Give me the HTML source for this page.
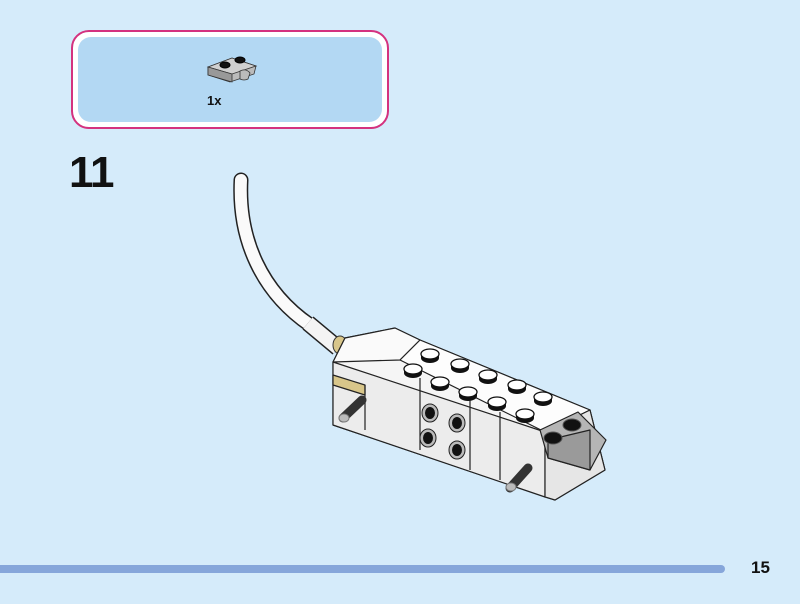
<!DOCTYPE html>
<html><head><meta charset="utf-8"><style>
html,body{margin:0;padding:0;}
body{width:800px;height:604px;background:#d5ebfa;position:relative;overflow:hidden;font-family:"Liberation Sans",sans-serif;}
.box{position:absolute;left:71px;top:30px;width:314px;height:95px;border:2px solid #d4327f;border-radius:18px;background:#fff;}
.inner{position:absolute;left:5px;top:5px;right:5px;bottom:5px;background:#b3d8f3;border-radius:13px;}
.qty{position:absolute;left:207px;top:93px;font-size:13px;font-weight:bold;color:#111;}
.step{position:absolute;left:69px;top:148px;font-size:44px;font-weight:bold;color:#111;letter-spacing:-1px;}
.bar{position:absolute;left:0;top:565px;width:725px;height:8px;background:#86a6da;border-radius:0 4px 4px 0;}
.pg{position:absolute;left:751px;top:558px;font-size:17px;font-weight:bold;color:#111;}
</style></head><body>
<div class="box"><div class="inner"></div></div>
<svg style="position:absolute;left:0;top:0" width="800" height="604">
 <defs>
  <g id="stud"><path d="M-9,0 L-9,4 A9,5 0 0 0 9,4 L9,0Z" fill="#111"/><ellipse cx="0" cy="0" rx="9" ry="5" fill="#fff" stroke="#111" stroke-width="1.3"/></g>
  <g id="hole"><ellipse rx="8" ry="9" fill="#bbb" stroke="#222"/><ellipse rx="5" ry="6" fill="#111"/></g>
 </defs>
 <g stroke="#333" stroke-width="0.8">
  <polygon points="208,67 232,58 256,66 254,74 230,82 208,75" fill="#bbb"/>
  <polygon points="208,67 232,58 256,66 232,74" fill="#d0d0d0"/>
  <polygon points="208,67 232,74 232,82 208,75" fill="#999"/>
  <path d="M240,71 q6,-3 10,2 l-2,6 q-4,2 -8,0z" fill="#bbb"/>
 </g>
 <g fill="#111" stroke="#000"><ellipse cx="225" cy="65" rx="5" ry="3"/><ellipse cx="240" cy="60" rx="5" ry="3"/></g>
 <path d="M241,180 C238,240 262,292 310,325" stroke="#222" stroke-width="15" fill="none" stroke-linecap="round"/>
 <path d="M241,180 C238,240 262,292 310,325" stroke="#fafafa" stroke-width="12" fill="none" stroke-linecap="round"/>
 <path d="M308,323 L338,348" stroke="#222" stroke-width="17" fill="none"/>
 <path d="M308,323 L338,348" stroke="#f4f4f4" stroke-width="14" fill="none"/>
 <ellipse cx="340" cy="345" rx="7" ry="9" fill="#d8c68a" stroke="#333"/>
 <g stroke="#222" stroke-width="1.2" stroke-linejoin="round">
  <polygon points="333,362 345,338 395,328 420,340 590,410 605,470 555,500 333,425" fill="#f5f5f5"/>
  <polygon points="333,362 545,432 545,497 333,425" fill="#ececec"/>
  <polygon points="345,338 395,328 420,340 400,360 333,362" fill="#fafafa"/>
  <polygon points="400,360 420,340 590,410 545,432" fill="#fdfdfd"/>
  <polygon points="545,432 590,410 605,470 555,500 545,497" fill="#e6e6e6"/>
  <polygon points="333,375 365,385 365,395 333,385" fill="#d8c68a"/>
  <line x1="420" y1="378" x2="420" y2="450"/>
  <line x1="470" y1="400" x2="470" y2="470"/>
  <line x1="365" y1="385" x2="365" y2="430"/>
  <line x1="500" y1="412" x2="500" y2="480"/>
  <polygon points="540,430 578,412 606,440 590,470 548,458" fill="#b5b5b5"/>
  <polygon points="548,440 590,430 590,470 548,458" fill="#9a9a9a"/>
 </g>
 <use href="#stud" x="430" y="354"/><use href="#stud" x="413" y="369"/>
 <use href="#stud" x="460" y="364"/><use href="#stud" x="488" y="375"/>
 <use href="#stud" x="440" y="382"/><use href="#stud" x="468" y="392"/>
 <use href="#stud" x="517" y="385"/><use href="#stud" x="497" y="402"/>
 <use href="#stud" x="543" y="397"/><use href="#stud" x="525" y="414"/>
 <g fill="#111" stroke="#555"><ellipse cx="572" cy="425" rx="9" ry="6"/><ellipse cx="553" cy="438" rx="9" ry="6"/></g>
 <use href="#hole" x="430" y="413"/><use href="#hole" x="457" y="423"/>
 <use href="#hole" x="428" y="438"/><use href="#hole" x="457" y="450"/>
 <g stroke="#777" stroke-width="1">
  <path d="M343,418 L362,400" stroke="#333" stroke-width="9" stroke-linecap="round"/>
  <ellipse cx="344" cy="418" rx="5" ry="4" fill="#bbb"/>
  <path d="M510,488 L528,468" stroke="#333" stroke-width="9" stroke-linecap="round"/>
  <ellipse cx="511" cy="487" rx="5" ry="4" fill="#bbb"/>
 </g>
</svg>
<div class="qty">1x</div>
<div class="step">11</div>
<div class="bar"></div>
<div class="pg">15</div>
</body></html>
